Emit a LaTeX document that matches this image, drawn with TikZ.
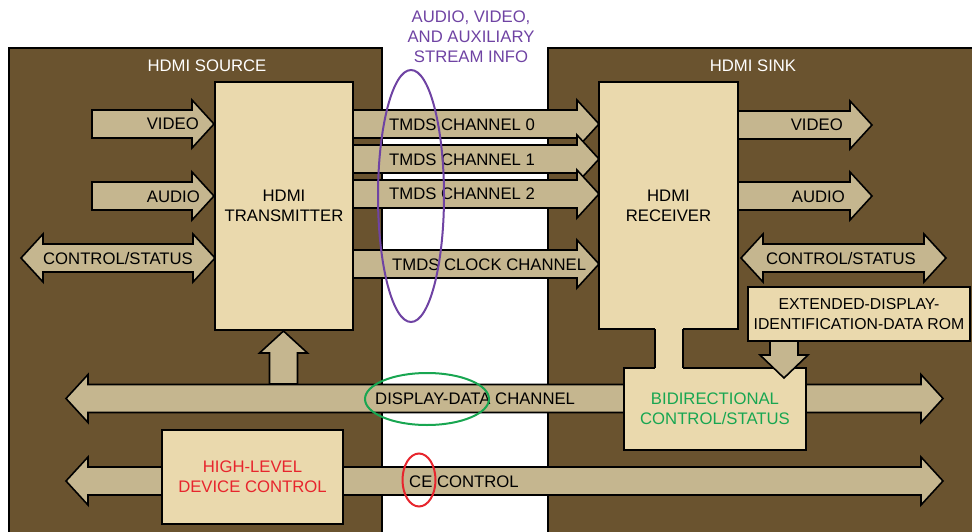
\documentclass[tikz,border=0pt]{standalone}
\usepackage{fontspec}
\setmainfont{Liberation Sans}
\usepackage{xcolor}
\usepackage{tikz}

\definecolor{panelbrown}{HTML}{6A532F}
\definecolor{pipetan}{HTML}{C5B68F}
\definecolor{chipcream}{HTML}{EAD9AD}
\definecolor{infopurple}{HTML}{6F43A3}
\definecolor{ddcgreen}{HTML}{18A651}
\definecolor{cecred}{HTML}{E7252D}

\tikzset{
    panel/.style = {draw = black, line width = 2pt, fill = panelbrown},
    pipe/.style = {draw = black, line width = 1.6pt, fill = pipetan, line join = miter},
    chip/.style = {draw = black, line width = 2pt, fill = chipcream, align = center, inner sep = 0pt},
    lbl/.style = {inner sep = 0pt, text height = 12pt, text depth = 0pt},
    ring/.style = {line width = 2pt}
}

\newcommand{\pipeR}[3]{\filldraw[pipe] (#1, #3 - 14) -- (#2 - 22, #3 - 14) -- (#2 - 22, #3 - 24) -- (#2, #3)
    -- (#2 - 22, #3 + 24) -- (#2 - 22, #3 + 14) -- (#1, #3 + 14) -- cycle;}
\newcommand{\pipeLR}[3]{\filldraw[pipe] (#1, #3) -- (#1 + 22, #3 - 24) -- (#1 + 22, #3 - 14) -- (#2 - 22, #3 - 14)
    -- (#2 - 22, #3 - 24) -- (#2, #3) -- (#2 - 22, #3 + 24) -- (#2 - 22, #3 + 14) -- (#1 + 22, #3 + 14)
    -- (#1 + 22, #3 + 24) -- cycle;}
\newcommand{\pipeU}[3]{\filldraw[pipe] (#1 - 14, #2) -- (#1 - 14, #3 + 22) -- (#1 - 24, #3 + 22) -- (#1, #3)
    -- (#1 + 24, #3 + 22) -- (#1 + 14, #3 + 22) -- (#1 + 14, #2) -- cycle;}
\newcommand{\pipeD}[3]{\filldraw[pipe] (#1 - 14, #2) -- (#1 - 14, #3 - 23) -- (#1 - 24, #3 - 23) -- (#1, #3)
    -- (#1 + 24, #3 - 23) -- (#1 + 14, #3 - 23) -- (#1 + 14, #2) -- cycle;}

\begin{document}
\begin{tikzpicture}[x = 1pt, y = -1pt, every node/.style = {font = \fontsize{16.7}{20}\selectfont}]
        \useasboundingbox (0, 0) rectangle (972, 532);

        \filldraw[panel] (9, 48) rectangle (382, 560);
        \filldraw[panel] (548, 48) rectangle (990, 560);
        \node[lbl, text = white] (srcname) at (207, 66) {HDMI SOURCE};
        \node[lbl, text = white] (sinkname) at (753, 66) {HDMI SINK};

        \pipeLR{66}{943}{398.5}
        \pipeLR{66}{943}{481}
        \pipeU{283.5}{384}{331}

        \pipeR{92}{214}{124}
        \pipeR{92}{214}{196}
        \pipeLR{21}{215}{258}

        \pipeR{353}{599}{124}
        \pipeR{353}{599}{159}
        \pipeR{353}{599}{194}
        \pipeR{353}{599}{264}

        \pipeR{738}{872}{125}
        \pipeR{738}{872}{196}
        \pipeLR{741}{946}{258}

        \node[chip, minimum width = 138, minimum height = 248] (tx) at (284, 206) {HDMI\\TRANSMITTER};
        \node[chip, minimum width = 139, minimum height = 247] (rx) at (668.5, 205.5) {HDMI\\RECEIVER};
        \node[chip, minimum width = 182, minimum height = 82, text = ddcgreen] (bidir) at (715, 409)
            {BIDIRECTIONAL\\CONTROL/STATUS};
        \fill[chipcream] (655, 326) rectangle (683, 371);
        \draw[line width = 2pt] (655, 329) -- (655, 368) (683, 329) -- (683, 368);
        \node[chip, minimum width = 222, minimum height = 54, font = \fontsize{15.8}{20}\selectfont] (edid)
            at (859, 314) {EXTENDED-DISPLAY-\\IDENTIFICATION-DATA ROM};
        \node[chip, minimum width = 181, minimum height = 94, text = cecred] (hldc) at (252.5, 477)
            {HIGH-LEVEL\\DEVICE CONTROL};
        \pipeD{784}{341}{378}

        \node[lbl, anchor = east] (vidin) at (199, 124) {VIDEO};
        \node[lbl, anchor = east] (audin) at (200, 196) {AUDIO};
        \node[lbl] (ctlin) at (118, 258) {CONTROL/STATUS};
        \node[lbl, anchor = west] (ch0) at (389, 125) {TMDS CHANNEL 0};
        \node[lbl, anchor = west] (ch1) at (389, 159) {TMDS CHANNEL 1};
        \node[lbl, anchor = west] (ch2) at (389, 194) {TMDS CHANNEL 2};
        \node[lbl, anchor = west] (clk) at (392, 264) {TMDS CLOCK CHANNEL};
        \node[lbl, anchor = east] (vidout) at (843, 125) {VIDEO};
        \node[lbl, anchor = east] (audout) at (845, 196) {AUDIO};
        \node[lbl] (ctlout) at (841, 258) {CONTROL/STATUS};
        \node[lbl, anchor = west] (ddc) at (375, 398.5) {DISPLAY-DATA CHANNEL};
        \node[lbl, anchor = west] (cec) at (409, 481) {CE CONTROL};
        \node[align = center, text = infopurple] (info) at (471, 37) {AUDIO, VIDEO,\\AND AUXILIARY\\STREAM INFO};

        \draw[ring, infopurple] (411, 196) ellipse (33 and 126);
        \draw[ring, ddcgreen] (427, 399) ellipse (62 and 26);
        \draw[ring, cecred] (419, 480) ellipse (16.5 and 26.5);
    \end{tikzpicture}
\end{document}
